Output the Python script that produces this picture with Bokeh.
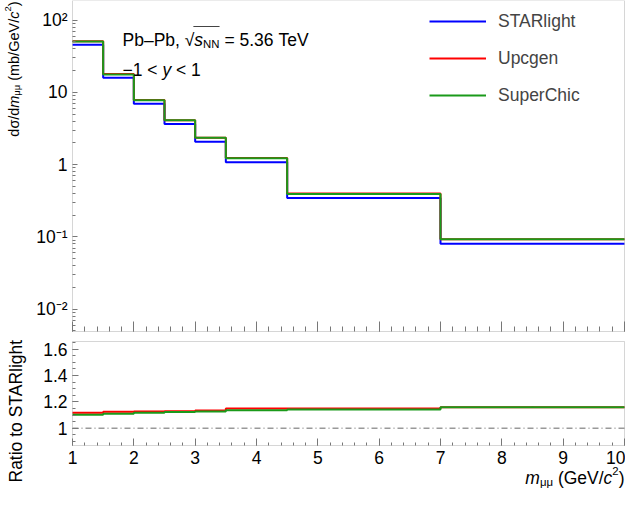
import math
from bokeh.plotting import figure
from bokeh.models import (Range1d, FixedTicker, CustomJSTickFormatter, Label,
                          Legend, LegendItem, BoxAnnotation, LinearAxis, LogAxis)
from bokeh.layouts import column
from bokeh.embed import file_html
from bokeh.resources import INLINE

# ---------------- data ----------------
bin_edges = [1.0, 1.5, 2.0, 2.5, 3.0, 3.5, 4.5, 7.0, 10.0]
starlight = [45.7, 15.9, 6.97, 3.65, 2.08, 1.075, 0.344, 0.080]
upcgen = [51.2, 17.9, 7.87, 4.13, 2.36, 1.235, 0.397, 0.093]
superchic = [50.5, 17.65, 7.80, 4.11, 2.35, 1.225, 0.393, 0.093]
ratio_upcgen = [1.118, 1.125, 1.128, 1.130, 1.135, 1.150, 1.150, 1.160]
ratio_upcgen_err = [0.006, 0.005, 0.005, 0.004, 0.004, 0.002, 0.002, 0.002]
ratio_superchic = [1.103, 1.110, 1.118, 1.123, 1.128, 1.138, 1.143, 1.160]
ratio_superchic_err = [0.0, 0.0, 0.0, 0.0, 0.0, 0.0, 0.0, 0.004]
ratio_reference = 1.0
series_names = ["STARlight", "Upcgen", "SuperChic"]
series_colors = ["#0000ff", "#ff0000", "#1a9a1a"]
x_ticks = [1, 2, 3, 4, 5, 6, 7, 8, 9, 10]
y_ticks_top = [0.01, 0.1, 1, 10, 100]
y_ticks_ratio = [1.0, 1.2, 1.4, 1.6]
x_lim = (1.0, 10.0)
y_lim_top = (0.0049, 187.0)
y_lim_ratio = (0.87, 1.658)

# ---------------- styling ----------------
FONT = "Liberation Sans"
FS = 17.5
FSY = 14.5
AX = "#777777"
NB = "\u00a0"

W = {' ': 278, NB: 278, '(': 333, ')': 333, ',': 278, '.': 278, '/': 278, '0': 556,
     '1': 556, '2': 556, '3': 556, '5': 556, '6': 556, '=': 584, '<': 584,
     '\u2212': 584, '\u2013': 556, 'A': 667, 'G': 778, 'L': 556, 'N': 722, 'P': 667,
     'R': 722, 'S': 667, 'T': 611, 'V': 667, 'a': 556, 'b': 556, 'c': 500, 'd': 556,
     'e': 556, 'g': 556, 'h': 556, 'i': 222, 'l': 222, 'm': 833, 'o': 556, 's': 500,
     't': 278, 'y': 500, '\u03bc': 576, '\u03c3': 600, '\u221a': 549}


def tw(s, size):
    return sum(W.get(ch, 556) for ch in s) * size / 1000.0


# page geometry (pixels from the top-left of the page)
PAGE = 8
FIG_W = 625
PANEL_L, PANEL_R = 80, 632
TOP_FIG_T, TOP_FIG_B = 8, 345
TOP_PT, TOP_PB = 8, 339          # data panel of the upper plot
BOT_FIG_T, BOT_FIG_B = 345, 497
BOT_PT, BOT_PB = 349, 453        # data panel of the ratio plot

# x range covering the whole canvas width so that 1..10 lands on the panel
ppx = (PANEL_R - PANEL_L) / (x_lim[1] - x_lim[0])
x_range = Range1d(x_lim[0] - (PANEL_L - PAGE) / ppx,
                  x_lim[1] + (PAGE + FIG_W - PANEL_R) / ppx)

lt0, lt1 = math.log10(y_lim_top[0]), math.log10(y_lim_top[1])
ppd = (TOP_PB - TOP_PT) / (lt1 - lt0)
top_range = Range1d(10 ** (lt0 - (TOP_FIG_B - TOP_PB) / ppd),
                    10 ** (lt1 + (TOP_PT - TOP_FIG_T) / ppd))
ppr = (BOT_PB - BOT_PT) / (y_lim_ratio[1] - y_lim_ratio[0])
bot_range = Range1d(y_lim_ratio[0] - (BOT_FIG_B - BOT_PB) / ppr,
                    y_lim_ratio[1] + (BOT_PT - BOT_FIG_T) / ppr)


def rich(p, pieces, X, Y, fl, fb, rotated=False):
    adv = 0.0
    for text, size, style, shift in pieces:
        if rotated:
            sx = X - shift - fl
            sy = fb - (Y - adv)
            ang = math.pi / 2
        else:
            sx = X + adv - fl
            sy = fb - (Y - shift)
            ang = 0
        p.add_layout(Label(x=sx, y=sy, x_units="screen", y_units="screen", text=text,
                           angle=ang, text_font=FONT, text_font_size=f"{size}px",
                           text_font_style=style, text_align="left",
                           text_baseline="alphabetic", text_color="black"))
        adv += tw(text, size)
    return adv


def total(pieces):
    return sum(tw(t, s) for t, s, _, _ in pieces)


def make_fig(height, y_range, log):
    f = figure(frame_width=FIG_W, frame_height=height, x_range=x_range,
               y_range=y_range, y_axis_type="log" if log else "linear",
               x_axis_location=None, y_axis_location=None, min_border=0,
               output_backend="svg", toolbar_location=None)
    f.grid.visible = False
    f.outline_line_color = None
    f.background_fill_color = "white"
    f.border_fill_color = "white"
    return f


def style_axis(ax, tin, tmin):
    ax.axis_line_color = None
    ax.major_tick_line_color = AX
    ax.minor_tick_line_color = AX
    ax.major_tick_out = 0
    ax.minor_tick_out = 0
    ax.major_tick_in = tin
    ax.minor_tick_in = tmin
    ax.major_label_text_font = FONT
    ax.major_label_text_font_size = f"{FS}px"
    ax.major_label_text_color = "black"
    ax.major_label_standoff = 5


x_minor = [1 + 0.2 * i for i in range(46)]

# ---------------- top panel ----------------
top = make_fig(TOP_FIG_B - TOP_FIG_T, top_range, True)
tx = LinearAxis(fixed_location=y_lim_top[0], bounds=x_lim,
                ticker=FixedTicker(ticks=x_ticks, minor_ticks=x_minor),
                formatter=CustomJSTickFormatter(code="return '';"))
style_axis(tx, 10, 5)
tx.major_label_text_font_size = "0px"
top.add_layout(tx, "below")
ty = LogAxis(fixed_location=x_lim[0], bounds=y_lim_top,
             ticker=FixedTicker(ticks=y_ticks_top,
                                minor_ticks=[m * 10 ** e for e in range(-3, 3) for m in range(2, 10)]),
             formatter=CustomJSTickFormatter(code="""
const e = Math.round(Math.log10(tick));
if (e == 0) return "1";
if (e == 1) return "10";
const sup = {"-3": "\u207b\u00b3", "-2": "\u207b\u00b2", "-1": "\u207b\u00b9", "2": "\u00b2", "3": "\u00b3"};
return "10" + sup[String(e)];
"""))
style_axis(ty, 5, 3)
top.add_layout(ty, "left")
top.add_layout(BoxAnnotation(left=x_lim[0], right=x_lim[1], bottom=y_lim_top[0],
                             top=y_lim_top[1], fill_alpha=0, line_color=AX,
                             line_width=1))

renderers = []
for vals, col in zip([starlight, upcgen, superchic], series_colors):
    r = top.step(x=bin_edges, y=vals + [vals[-1]], mode="after", line_color=col,
                 line_width=2)
    renderers.append(r)

LEG_ITEM = 24
LEG_SP = 13
leg_h = 3 * LEG_ITEM + 2 * LEG_SP
legend = Legend(items=[LegendItem(label=n, renderers=[r]) for n, r in zip(series_names, renderers)],
                location=(437 - PAGE, TOP_FIG_B - (29 - LEG_ITEM / 2) - leg_h),
                padding=0, margin=0, spacing=LEG_SP,
                glyph_width=57, glyph_height=LEG_ITEM, label_height=LEG_ITEM,
                label_standoff=12,
                label_text_font=FONT, label_text_font_size=f"{FS}px",
                background_fill_alpha=0, border_line_alpha=0)
top.add_layout(legend)

# collision text
coll = [("Pb\u2013Pb," + NB, FS, "normal", 0), ("\u221a", FS, "normal", 0),
        ("s", FS, "italic", 0), ("NN", FS * 0.65, "normal", -4),
        (NB + "=" + NB + "5.36" + NB + "TeV", FS, "normal", 0)]
coll_x = 130
rich(top, coll, coll_x, 47, PAGE, TOP_FIG_B)
ol_x0 = coll_x + tw("Pb\u2013Pb, \u221a", FS) - 1
ol_x1 = ol_x0 + 1 + tw("s", FS) + tw("NN", FS * 0.65)
top.add_layout(BoxAnnotation(left=ol_x0 - PAGE, right=ol_x1 - PAGE,
                             bottom=TOP_FIG_B - 34.5, top=TOP_FIG_B - 33.5,
                             left_units="screen", right_units="screen",
                             bottom_units="screen", top_units="screen",
                             fill_color="#444444", fill_alpha=1, line_alpha=0))
rap = [("\u22121" + NB + "<" + NB, FS, "normal", 0), ("y", FS, "italic", 0),
       (NB + "<" + NB + "1", FS, "normal", 0)]
rich(top, rap, 130, 77, PAGE, TOP_FIG_B)

ylab = [("d\u03c3/d", FSY, "normal", 0), ("m", FSY, "italic", 0),
        ("\u03bc\u03bc", FSY * 0.65, "normal", -3), (NB + "(mb/GeV/", FSY, "normal", 0),
        ("c", FSY, "italic", 0), ("2", FSY * 0.65, "normal", 5.5), (")", FSY, "normal", 0)]
rich(top, ylab, 21, 9 + total(ylab), PAGE, TOP_FIG_B, rotated=True)

# ---------------- ratio panel ----------------
bot = make_fig(BOT_FIG_B - BOT_FIG_T, bot_range, False)
bx = LinearAxis(fixed_location=y_lim_ratio[0], bounds=x_lim,
                ticker=FixedTicker(ticks=x_ticks, minor_ticks=x_minor))
style_axis(bx, 7, 3)
bot.add_layout(bx, "below")
by = LinearAxis(fixed_location=x_lim[0], bounds=y_lim_ratio,
                ticker=FixedTicker(ticks=y_ticks_ratio,
                                   minor_ticks=[0.9 + 0.05 * i for i in range(16)]),
                formatter=CustomJSTickFormatter(code="return String(Math.round(tick*10)/10);"))
style_axis(by, 6, 3)
bot.add_layout(by, "left")
bot.add_layout(BoxAnnotation(left=x_lim[0], right=x_lim[1], bottom=y_lim_ratio[0],
                             top=y_lim_ratio[1], fill_alpha=0, line_color=AX,
                             line_width=1))

bot.segment(x0=[x_lim[0]], x1=[x_lim[1]], y0=[ratio_reference], y1=[ratio_reference],
            line_color="#999999", line_width=1.5, line_dash="6 3 1 3")

lefts = bin_edges[:-1]
rights = bin_edges[1:]
centers = [(a + b) / 2 for a, b in zip(lefts, rights)]
bot.quad(left=lefts, right=rights,
         bottom=[v - e for v, e in zip(ratio_upcgen, ratio_upcgen_err)],
         top=[v + e for v, e in zip(ratio_upcgen, ratio_upcgen_err)],
         fill_color="#ff0000", fill_alpha=0.35, line_alpha=0)
bot.step(x=bin_edges, y=ratio_upcgen + [ratio_upcgen[-1]], mode="after",
         line_color=series_colors[1], line_width=2)
bot.step(x=bin_edges, y=ratio_superchic + [ratio_superchic[-1]], mode="after",
         line_color=series_colors[2], line_width=2)
bot.segment(x0=centers, x1=centers,
            y0=[v - e for v, e in zip(ratio_superchic, ratio_superchic_err)],
            y1=[v + e for v, e in zip(ratio_superchic, ratio_superchic_err)],
            line_color=series_colors[2], line_width=1.5)

rlab = [("Ratio to STARlight", FS, "normal", 0)]
rich(bot, rlab, 23, 490, PAGE, BOT_FIG_B, rotated=True)

xlab = [("m", FS, "italic", 0), ("\u03bc\u03bc", FS * 0.65, "normal", -4),
        (NB + "(GeV/", FS, "normal", 0), ("c", FS, "italic", 0),
        ("2", FS * 0.65, "normal", 7), (")", FS, "normal", 0)]
rich(bot, xlab, PANEL_R - total(xlab), 485, PAGE, BOT_FIG_B)

layout = column(top, bot)
open("out.html", "w").write(file_html(layout, INLINE))
